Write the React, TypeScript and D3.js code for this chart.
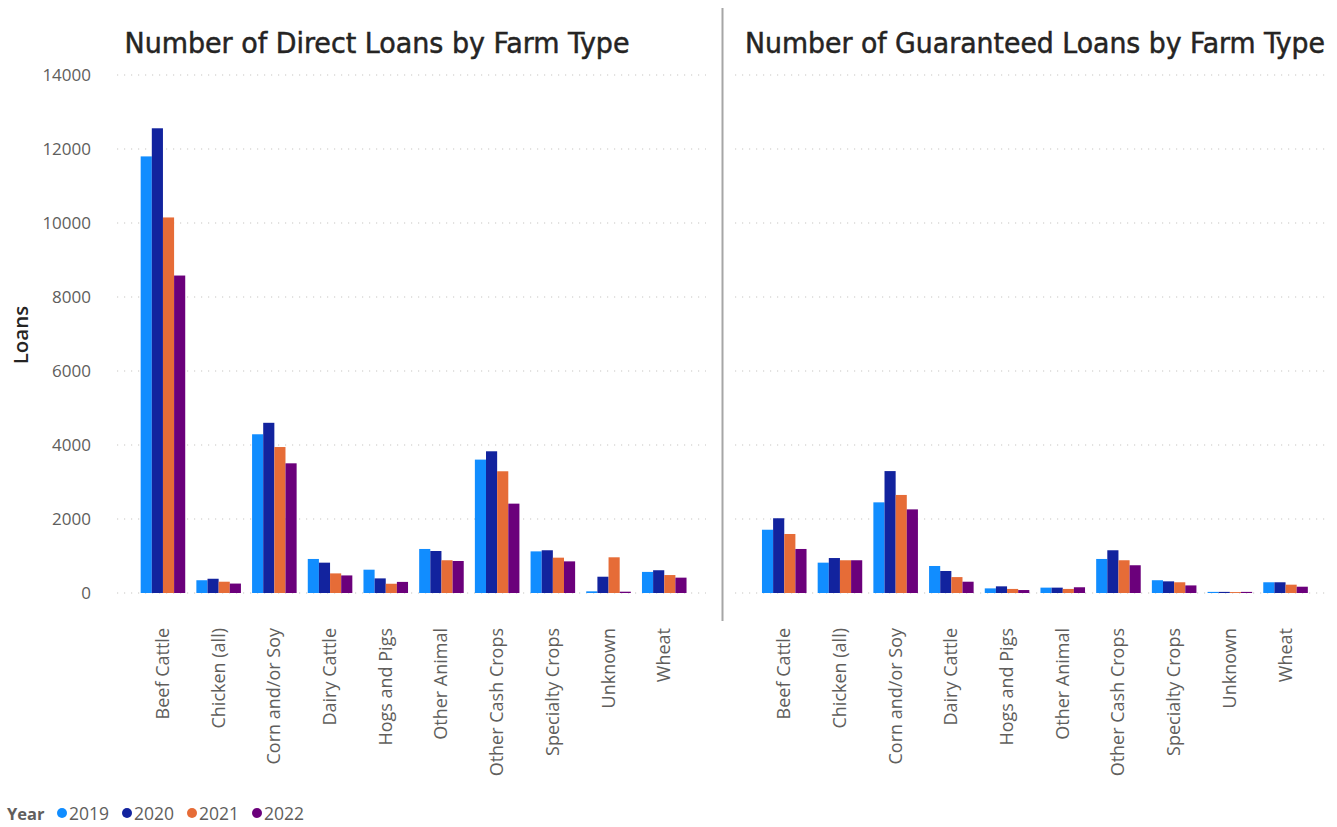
import React from "react";
import * as d3 from "d3";

const categories = [
  "Beef Cattle",
  "Chicken (all)",
  "Corn and/or Soy",
  "Dairy Cattle",
  "Hogs and Pigs",
  "Other Animal",
  "Other Cash Crops",
  "Specialty Crops",
  "Unknown",
  "Wheat",
];
const years = ["2019", "2020", "2021", "2022"];
const yearColors = ["#118DFF", "#12239E", "#E66C37", "#6B007B"];
const yTicks = [0, 2000, 4000, 6000, 8000, 10000, 12000, 14000];

// values per category, in year order 2019..2022
const directLoans = [
  [11800, 12560, 10150, 8580],
  [345, 385, 305, 255],
  [4290, 4600, 3945, 3505],
  [920, 820, 530, 475],
  [630, 395, 250, 300],
  [1190, 1135, 885, 865],
  [3605, 3830, 3290, 2415],
  [1125, 1155, 955, 855],
  [45, 440, 965, 35],
  [570, 615, 485, 415],
];
const guaranteedLoans = [
  [1710, 2020, 1595, 1190],
  [820, 945, 885, 885],
  [2450, 3295, 2650, 2260],
  [730, 595, 430, 305],
  [125, 180, 110, 80],
  [145, 145, 110, 155],
  [920, 1155, 885, 750],
  [345, 315, 290, 205],
  [30, 30, 25, 30],
  [290, 290, 225, 170],
];

const W = 1337;
const H = 827;
const UI = "'Segoe UI', 'Open Sans', sans-serif";
const TITLE_FONT = "'DIN', 'DejaVu Sans Condensed', sans-serif";

const y = d3.scaleLinear().domain([0, 14000]).range([593, 75]);

type PanelProps = {
  title: string;
  titleX: number;
  titleLen: number;
  data: number[][];
  bandRange: [number, number];
  gridRange: [number, number];
};

function Panel({ title, titleX, titleLen, data, bandRange, gridRange }: PanelProps) {
  const x = d3
    .scaleBand<string>()
    .domain(categories)
    .range(bandRange)
    .paddingInner(0.2)
    .paddingOuter(0.1);
  const xi = d3
    .scaleBand<string>()
    .domain(years)
    .range([0, x.bandwidth()]);
  return (
    <g>
      <text
        x={titleX}
        y={53}
        textAnchor="middle"
        fontFamily={TITLE_FONT}
        fontSize={28}
        fill="#252423"
        stroke="#252423"
        strokeWidth={0.45}
        textLength={titleLen}
        lengthAdjust="spacingAndGlyphs"
      >
        {title}
      </text>
      {yTicks.map((t) => (
        <line
          key={t}
          x1={gridRange[0]}
          x2={gridRange[1]}
          y1={y(t)}
          y2={y(t)}
          stroke="#C8C6C4"
          strokeWidth={1.2}
          strokeDasharray="1.2,5.8"
        />
      ))}
      {categories.map((c, ci) => (
        <g key={c} transform={`translate(${x(c)},0)`}>
          {years.map((yr, yi) => {
            const v = data[ci][yi];
            return (
              <rect
                key={yr}
                x={xi(yr)}
                y={y(v)}
                width={xi.bandwidth()}
                height={y(0) - y(v)}
                fill={yearColors[yi]}
              />
            );
          })}
        </g>
      ))}
      {categories.map((c) => {
        const cx = (x(c) as number) + x.bandwidth() / 2;
        return (
          <text
            key={c}
            transform={`translate(${cx + 6},628) rotate(-90)`}
            textAnchor="end"
            fontFamily={UI}
            fontSize={18}
            fill="#605E5C"
          >
            {c}
          </text>
        );
      })}
    </g>
  );
}

export default function App() {
  return (
    <svg
      width={W}
      height={H}
      style={{ position: "absolute", left: 0, top: 0, background: "#fff" }}
    >
      <rect width={W} height={H} fill="#fff" />
      <Panel
        title="Number of Direct Loans by Farm Type"
        titleX={377}
        titleLen={505}
        data={directLoans}
        bandRange={[135.1, 692.1]}
        gridRange={[117, 706]}
      />
      <Panel
        title="Number of Guaranteed Loans by Farm Type"
        titleX={1035}
        titleLen={580}
        data={guaranteedLoans}
        bandRange={[756.4, 1313.4]}
        gridRange={[735, 1327]}
      />
      {yTicks.map((t) => (
        <text
          key={t}
          x={91}
          y={y(t)}
          dy="0.35em"
          textAnchor="end"
          fontFamily={UI}
          fontSize={17}
          fill="#605E5C"
        >
          {t}
        </text>
      ))}
      <text
        transform="translate(28,335) rotate(-90)"
        textAnchor="middle"
        fontFamily={UI}
        fontSize={20.5}
        fontWeight={600}
        fill="#252423"
      >
        Loans
      </text>
      <line x1={722.5} x2={722.5} y1={8} y2={621} stroke="#A6A6A6" strokeWidth={2} />
      <g fontFamily={UI}>
        <text x={7} y={820} fontSize={16.5} fontWeight={700} fill="#605E5C">
          Year
        </text>
        {years.map((yr, i) => {
          const lx = [62, 127, 192, 257][i];
          return (
            <g key={yr}>
              <circle cx={lx} cy={813} r={5} fill={yearColors[i]} />
              <text x={lx + 7} y={820} fontSize={17.5} fill="#605E5C">
                {yr}
              </text>
            </g>
          );
        })}
      </g>
    </svg>
  );
}
